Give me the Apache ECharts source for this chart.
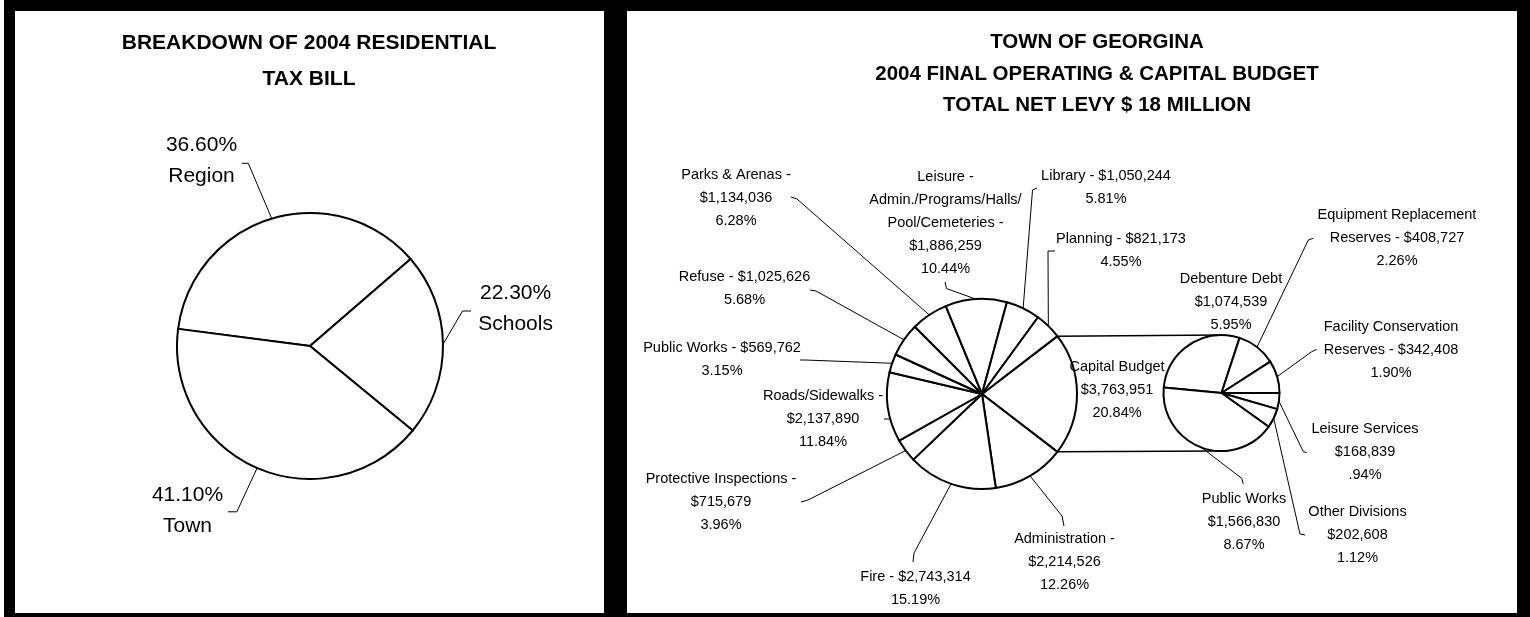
<!DOCTYPE html>
<html>
<head>
<meta charset="utf-8">
<title>Georgina 2004 budget</title>
<script src="https://cdn.jsdelivr.net/npm/echarts@6/dist/echarts.min.js"></script>
<style>
  html, body { margin: 0; padding: 0; background: #000; }
  #chart { width: 1530px; height: 617px; }
</style>
</head>
<body>
<div id="chart"></div>
<script>
// residential tax bill split (%)
var taxNames = ['Region', 'Schools', 'Town'];
var taxShares = [36.6, 22.3, 41.1];

// net levy by department ($), clockwise from the capital budget slice
var levyNames = ['Capital Budget', 'Administration -', 'Fire -', 'Protective Inspections -', 'Roads/Sidewalks -',
  'Public Works -', 'Refuse -', 'Parks & Arenas -', 'Leisure -\nAdmin./Programs/Halls/\nPool/Cemeteries -',
  'Library -', 'Planning -'];
var levyValues = [3763951, 2214526, 2743314, 715679, 2137890, 569762, 1025626, 1134036, 1886259, 1050244, 821173];
var levyPct = [20.84, 12.26, 15.19, 3.96, 11.84, 3.15, 5.68, 6.28, 10.44, 5.81, 4.55];

// capital budget split ($)
var capNames = ['Debenture Debt', 'Equipment Replacement\nReserves -', 'Facility Conservation\nReserves -',
  'Leisure Services', 'Other Divisions', 'Public Works'];
var capValues = [1074539, 408727, 342408, 168839, 202608, 1566830];
var capPct = [5.95, 2.26, 1.90, 0.94, 1.12, 8.67];

// label text: value on same line (' ') or next line ('\n')
var levySep = ['\n', '\n', ' ', '\n', '\n', ' ', ' ', '\n', '\n', ' ', ' '];
var capSep = ['\n', ' ', ' ', '\n', '\n', '\n'];

// label centre, then leader elbow / end (line starts on the arc)
var taxLabelAt = [
  [201.5, 161, [248.3, 163.3], [241.7, 163.3]],
  [515.6, 309, [462.5, 311], [471, 311]],
  [187.5, 510.5, [236.8, 511.8], [228, 511.8]]
];
var levyLabelAt = [
  [1117, 390],
  [1064.5, 562, [1062, 516], [1064, 526]],
  [915.5, 588.6, [914, 553], [913, 562]],
  [721, 502, [808, 500], [801, 502]],
  [823, 418.8, [891, 419], [884, 419]],
  [722, 359.7, [805, 360], [800, 360]],
  [744.5, 288.6, [816, 291], [810, 290]],
  [736, 198, [797, 199], [791, 197]],
  [945.5, 222.5, [946.5, 288.5], [945, 282]],
  [1106, 187.8, [1032.5, 190], [1037, 188]],
  [1121, 250, [1048, 251], [1055, 251]]
];
var capLabelAt = [
  [1231, 302],
  [1397, 238.3, [1308.3, 240], [1313.3, 238.3]],
  [1391, 350.2, [1311.7, 351.7], [1316.7, 349.3]],
  [1365, 452, [1303.3, 451.7], [1306.7, 452.7]],
  [1357.5, 535.3, [1300, 534], [1305, 535]],
  [1244, 522.3, [1241.7, 478.3], [1243.3, 484]]
];

var FONT = "'Liberation Sans', Arial, sans-serif";
var mainC = [982, 394], mainR = 95;
var capC = [1221.5, 393], capR = 58;

function money(v) { return '$' + String(v).replace(/\B(?=(\d{3})+(?!\d))/g, ','); }
function pct(p) { var s = p.toFixed(2); return (p < 1 ? s.replace(/^0/, '') : s) + '%'; }
function sum(a) { return a.reduce(function (s, v) { return s + v; }, 0); }

function placeLabels(spots) {
  return function (params) {
    var s = spots[params.dataIndex];
    var out = { x: s[0], y: s[1], align: 'center', verticalAlign: 'middle' };
    if (s[2] && params.labelLinePoints) {
      out.labelLinePoints = [params.labelLinePoints[0], s[2], s[3]];
    }
    return out;
  };
}

var levyData = levyValues.map(function (v, i) {
  var d = { name: levyNames[i], value: v };
  if (!levyLabelAt[i][2]) d.labelLine = { show: false };
  return d;
});
var capData = capValues.map(function (v, i) {
  var d = { name: capNames[i], value: v };
  if (!capLabelAt[i][2]) d.labelLine = { show: false };
  return d;
});
var taxData = taxShares.map(function (v, i) { return { name: taxNames[i], value: v }; });

// capital budget slice sits symmetric about the horizontal
var capHalf = levyValues[0] / sum(levyValues) * 180;
var capStart = (capValues[0] + capValues[1] + capValues[2]) / sum(capValues) * 360;
var a = capHalf * Math.PI / 180;
var edgeX = mainC[0] + mainR * Math.cos(a);

var sliceStyle = { color: '#fff', borderColor: '#000', borderWidth: 2 };

var chart = echarts.init(document.getElementById('chart'));
chart.setOption({
  backgroundColor: '#000',
  animation: false,
  title: [{
    text: 'BREAKDOWN OF 2004 RESIDENTIAL\nTAX BILL',
    left: 309, top: 25, textAlign: 'center', padding: 0,
    textStyle: { fontFamily: FONT, fontSize: 21, fontWeight: 'bold', color: '#000', lineHeight: 36 }
  }, {
    text: 'TOWN OF GEORGINA\n2004 FINAL OPERATING & CAPITAL BUDGET\nTOTAL NET LEVY $ 18 MILLION',
    left: 1097, top: 27, textAlign: 'center', padding: 0,
    textStyle: { fontFamily: FONT, fontSize: 20.5, fontWeight: 'bold', color: '#000', lineHeight: 31.5 }
  }],
  graphic: [
    { type: 'rect', z: 0, silent: true, shape: { x: 0, y: 0, width: 4, height: 617 }, style: { fill: '#fff' } },
    { type: 'rect', z: 0, silent: true, shape: { x: 15, y: 11, width: 589, height: 602 }, style: { fill: '#fff' } },
    { type: 'rect', z: 0, silent: true, shape: { x: 627, y: 11, width: 890, height: 602 }, style: { fill: '#fff' } },
    { type: 'line', z: 5, silent: true,
      shape: { x1: edgeX, y1: mainC[1] - mainR * Math.sin(a), x2: capC[0], y2: capC[1] - capR },
      style: { stroke: '#000', lineWidth: 1.5 } },
    { type: 'line', z: 5, silent: true,
      shape: { x1: edgeX, y1: mainC[1] + mainR * Math.sin(a), x2: capC[0], y2: capC[1] + capR },
      style: { stroke: '#000', lineWidth: 1.5 } }
  ],
  series: [{
    name: 'Tax bill',
    type: 'pie',
    center: [310, 346],
    radius: 133,
    startAngle: 172.6,
    silent: true,
    avoidLabelOverlap: false,
    itemStyle: sliceStyle,
    label: {
      position: 'outside', color: '#000', fontFamily: FONT, fontSize: 21, lineHeight: 31,
      formatter: function (p) { return p.value.toFixed(2) + '%\n' + p.name; }
    },
    labelLine: { show: true, length: 20, length2: 10, lineStyle: { color: '#000', width: 1 } },
    labelLayout: placeLabels(taxLabelAt),
    data: taxData
  }, {
    name: 'Net levy',
    type: 'pie',
    center: mainC,
    radius: mainR,
    startAngle: capHalf,
    silent: true,
    avoidLabelOverlap: false,
    itemStyle: sliceStyle,
    label: {
      position: 'outside', color: '#000', fontFamily: FONT, fontSize: 14.5, lineHeight: 23,
      formatter: function (p) {
        var i = p.dataIndex;
        return levyNames[i] + levySep[i] + money(levyValues[i]) + '\n' + pct(levyPct[i]);
      }
    },
    labelLine: { show: true, length: 20, length2: 10, lineStyle: { color: '#000', width: 1 } },
    labelLayout: placeLabels(levyLabelAt),
    data: levyData
  }, {
    name: 'Capital budget',
    type: 'pie',
    center: capC,
    radius: capR,
    startAngle: capStart,
    silent: true,
    avoidLabelOverlap: false,
    itemStyle: sliceStyle,
    label: {
      position: 'outside', color: '#000', fontFamily: FONT, fontSize: 14.5, lineHeight: 23,
      formatter: function (p) {
        var i = p.dataIndex;
        return capNames[i] + capSep[i] + money(capValues[i]) + '\n' + pct(capPct[i]);
      }
    },
    labelLine: { show: true, length: 20, length2: 10, lineStyle: { color: '#000', width: 1 } },
    labelLayout: placeLabels(capLabelAt),
    data: capData
  }]
});
</script>
</body>
</html>
